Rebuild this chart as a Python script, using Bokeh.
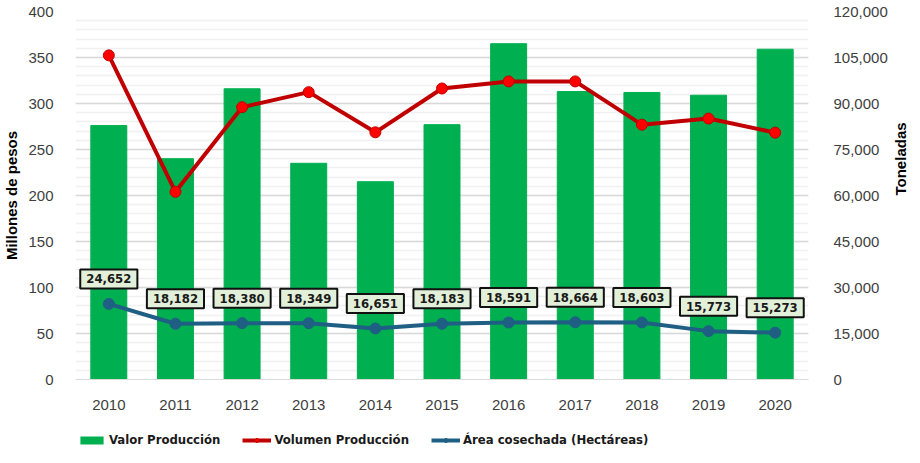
import math
from bokeh.plotting import figure
from bokeh.layouts import column
from bokeh.models import (ColumnDataSource, Range1d, LinearAxis, FixedTicker,
                          NumeralTickFormatter, Legend, LegendItem, FactorRange)
from bokeh.core.properties import value
from bokeh.embed import file_html
from bokeh.resources import INLINE

years = ["2010", "2011", "2012", "2013", "2014", "2015", "2016", "2017", "2018", "2019", "2020"]
valor = [276, 240, 316, 235, 215, 277, 365, 313, 312, 309, 359]
volumen = [105700, 61200, 88800, 93700, 80600, 94900, 97200, 97200, 83100, 85100, 80500]
area = [24652, 18182, 18380, 18349, 16651, 18183, 18591, 18664, 18603, 15773, 15273]
area_labels = [f"{v:,}" for v in area]
left_ticks = [0, 50, 100, 150, 200, 250, 300, 350, 400]
left_minor = [v for v in range(0, 401, 10)]
right_ticks = [0, 15000, 30000, 45000, 60000, 75000, 90000, 105000, 120000]

GREEN, RED, RED_PT, BLUE = "#00b050", "#c00000", "#ff0000", "#1f5f84"

src = ColumnDataSource(dict(year=years, valor=valor, volumen=volumen, area=area, lab=area_labels))

NARROW = "DejaVu Sans Condensed"
TICKFONT = "Liberation Sans"
FW, FH = 733, 368
BL, BR, BT, BB = 68, 103, 11, 34

p = figure(x_range=FactorRange(*years), y_range=Range1d(0, 400),
           frame_width=FW, frame_height=FH, output_backend="svg", toolbar_location=None,
           min_border_left=BL, min_border_right=BR, min_border_top=BT, min_border_bottom=BB)
p.extra_y_ranges = {"ton": Range1d(0, 120000)}
p.outline_line_color = None
p.background_fill_color = "white"

p.vbar(x="year", top="valor", width=0.54, color=GREEN, source=src)
p.line(x="year", y="volumen", line_color=RED, line_width=4, y_range_name="ton", source=src)
p.scatter(x="year", y="volumen", size=11, fill_color=RED_PT, line_color=RED,
          line_width=1, y_range_name="ton", source=src)
p.line(x="year", y="area", line_color=BLUE, line_width=4, y_range_name="ton", source=src)
p.scatter(x="year", y="area", size=11, fill_color=BLUE, line_color=BLUE,
          y_range_name="ton", source=src)

p.text(x="year", y="area", text="lab", y_range_name="ton", source=src, y_offset=-25,
       text_align="center", text_baseline="middle",
       text_font=value(NARROW), text_font_style="bold", text_font_size="13px",
       text_color="#1a1a1a",
       background_fill_color="#e2f0d9", border_line_color="#111111", border_line_width=2,
       padding=(6, 5))

# left axis
ya = p.yaxis[0]
ya.ticker = FixedTicker(ticks=left_ticks, minor_ticks=left_minor)
ya.axis_line_color = None
ya.major_tick_line_color = None
ya.minor_tick_line_color = None
ya.major_label_text_font = TICKFONT
ya.major_label_text_font_size = "15px"
ya.major_label_text_color = "#404040"
ya.major_label_standoff = 16
ya.axis_label = "Millones de pesos"
ya.axis_label_text_font = TICKFONT
ya.axis_label_text_font_style = "bold"
ya.axis_label_text_font_size = "15px"
ya.axis_label_text_color = "#000000"
ya.axis_label_standoff = 5

ra = LinearAxis(y_range_name="ton", ticker=FixedTicker(ticks=right_ticks),
                formatter=NumeralTickFormatter(format="0,0"))
ra.axis_line_color = None
ra.major_tick_line_color = None
ra.minor_tick_line_color = None
ra.major_label_text_font = TICKFONT
ra.major_label_text_font_size = "15px"
ra.major_label_text_color = "#404040"
ra.major_label_standoff = 19
ra.axis_label = "Toneladas"
ra.axis_label_text_font = TICKFONT
ra.axis_label_text_font_style = "bold"
ra.axis_label_text_font_size = "15px"
ra.axis_label_text_color = "#000000"
ra.axis_label_standoff = 10
if "axis_label_orientation" in LinearAxis.properties():
    ra.axis_label_orientation = math.pi / 2
p.add_layout(ra, "right")

xa = p.xaxis[0]
xa.axis_line_color = "#d9d9d9"
xa.major_tick_line_color = None
xa.minor_tick_line_color = None
xa.major_label_text_font = TICKFONT
xa.major_label_text_font_size = "15px"
xa.major_label_text_color = "#404040"
xa.major_label_standoff = 14

p.xgrid.grid_line_color = None
p.ygrid.grid_line_color = "#d9d9d9"
p.ygrid.grid_line_width = 1.5
p.ygrid.minor_grid_line_color = "#f0f0f0"
p.ygrid.minor_grid_line_width = 1.5

# legend strip: same series drawn out of its (hidden) view, only the legend shows
p2 = figure(width=BL + FW + BR, height=447 - (BT + FH + BB),
            x_range=FactorRange(*years), y_range=Range1d(-2, -1),
            x_axis_location=None, y_axis_location=None,
            output_backend="svg", toolbar_location=None,
            min_border_left=0, min_border_right=0, min_border_top=0, min_border_bottom=0)
p2.extra_y_ranges = {"ton": Range1d(-2, -1)}
p2.grid.visible = False
p2.outline_line_color = None
lb = p2.vbar(x="year", top="valor", bottom="valor", width=0, fill_color=GREEN, line_color=None,
             source=src)
l1 = p2.line(x="year", y="volumen", line_color=RED, line_width=4, y_range_name="ton", source=src)
s1 = p2.scatter(x="year", y="volumen", size=11, fill_color=RED_PT, line_color=RED,
                y_range_name="ton", source=src)
l2 = p2.line(x="year", y="area", line_color=BLUE, line_width=4, y_range_name="ton", source=src)
s2 = p2.scatter(x="year", y="area", size=11, fill_color=BLUE, line_color=BLUE,
                y_range_name="ton", source=src)

legend = Legend(items=[
    LegendItem(label="Valor Producción", renderers=[lb]),
    LegendItem(label="Volumen Producción", renderers=[l1, s1]),
    LegendItem(label="Área cosechada (Hectáreas)", renderers=[l2, s2]),
], orientation="horizontal", location=(2, 0))
legend.label_text_font = NARROW
legend.label_text_font_style = "bold"
legend.label_text_font_size = "13px"
legend.label_text_color = "#1a1a1a"
legend.glyph_width = 29
legend.glyph_height = 10
legend.label_standoff = 3
legend.label_height = 14
legend.spacing = 22
legend.padding = 0
legend.margin = 0
legend.border_line_color = None
legend.background_fill_alpha = 0
p2.add_layout(legend, "center")

layout = column(p, p2, spacing=0)
open("out.html", "w").write(file_html(layout, INLINE))
